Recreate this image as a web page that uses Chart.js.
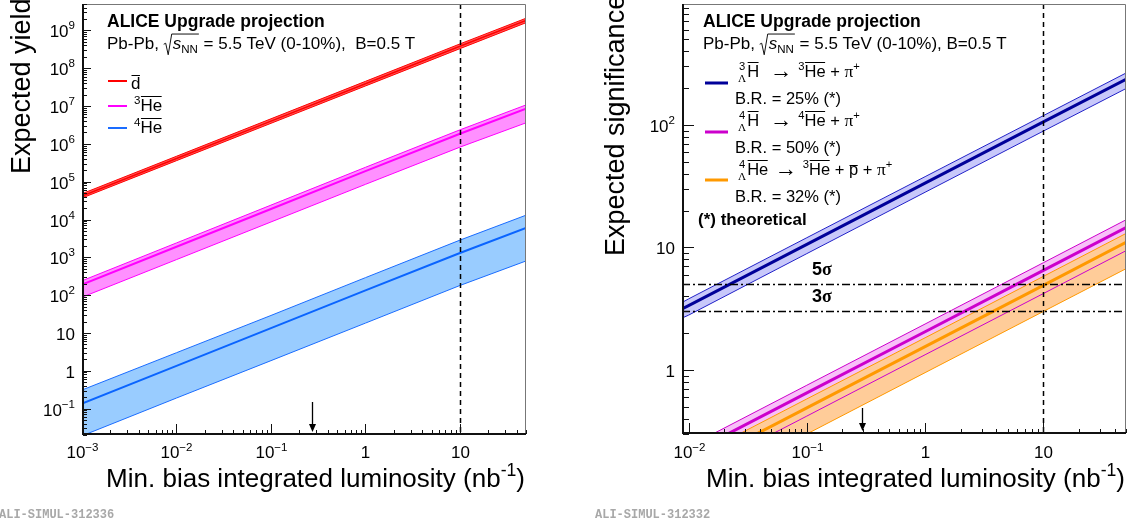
<!DOCTYPE html>
<html>
<head>
<meta charset="utf-8">
<script src="https://cdn.jsdelivr.net/npm/chart.js@4.4.1/dist/chart.umd.min.js"></script>
<style>
html, body { margin: 0; padding: 0; background: #fff; }
#wrap { position: relative; width: 1137px; height: 524px; overflow: hidden; }
canvas { position: absolute; top: 0; }
#left { left: 0; }
#right { left: 568px; }
</style>
</head>
<body>
<div id="wrap">
  <canvas id="left" width="568" height="524"></canvas>
  <canvas id="right" width="569" height="524"></canvas>
</div>
<script>
// ── left panel: expected yields vs. luminosity ─────────────────
const lumiL   = [0.001, 0.01, 0.1, 1, 10, 50];
const dbarHi  = [4.8e4, 4.7e5, 4.6e6, 4.5e7, 4.4e8, 2.1e9];
const dbarMid = [4.2e4, 4.1e5, 4.0e6, 3.9e7, 3.8e8, 1.85e9];
const dbarLo  = [3.7e4, 3.6e5, 3.5e6, 3.4e7, 3.3e8, 1.6e9];
const he3Hi   = [240, 2.4e3, 2.4e4, 2.4e5, 2.35e6, 1.07e7];
const he3Mid  = [190, 1.9e3, 1.9e4, 1.9e5, 1.85e6, 8.5e6];
const he3Lo   = [88, 870, 8.6e3, 8.5e4, 8.2e5, 3.6e6];
const he4Hi   = [0.31, 3.0, 29, 290, 2850, 1.3e4];
const he4Mid  = [0.135, 1.35, 13.4, 133, 1300, 6000];
const he4Lo   = [0.019, 0.19, 1.85, 18.2, 180, 800];

// ── right panel: expected significance vs. luminosity ──────────
const lumiR   = [0.0088, 0.01, 0.1, 1, 10, 50];
const h3Hi    = [3.55, 3.8, 12.0, 37.8, 119, 265];
const h3Mid   = [3.15, 3.35, 10.6, 33.5, 106, 235];
const h3Lo    = [2.65, 2.8, 8.9, 28.2, 89, 198];
const h4Hi    = [0.22, 0.237, 0.75, 2.37, 7.5, 16.8];
const h4Mid   = [0.19, 0.205, 0.65, 2.05, 6.5, 14.5];
const h4Lo    = [0.125, 0.133, 0.42, 1.33, 4.2, 9.4];
const he4LHi  = [0.172, 0.183, 0.58, 1.83, 5.8, 13.0];
const he4LMid = [0.145, 0.155, 0.49, 1.55, 4.9, 11.0];
const he4LLo  = [0.089, 0.095, 0.30, 0.95, 3.0, 6.7];

const sigmaLevels = [5, 3];
const sigmaLabels = ['5', '3'];
const targetLumi = 10;
const arrowLumiL = 0.27;
const arrowLumiR = 0.29;

const SANS  = '"Liberation Sans", Arial, Helvetica, sans-serif';
const SERIF = '"Liberation Serif", "Times New Roman", serif';
const MONO  = '"Liberation Mono", "Courier New", monospace';

function setFont(ctx, size, o) {
  ctx.font = (o.i ? 'italic ' : '') + (o.b ? 'bold ' : '') + size + 'px ' + (o.serif ? SERIF : SANS);
}

// tiny rich-text: sup / sub / overline / stacked prescripts / radical
function rich(ctx, x, y, parts, size, draw = true) {
  let cx = x;
  for (const p of parts) {
    if (p.rad) {
      const w = rich(ctx, 0, 0, p.rad, size, false);
      if (draw) {
        ctx.lineWidth = 1;
        ctx.beginPath();
        ctx.moveTo(cx, y - 0.28 * size);
        ctx.lineTo(cx + 2, y - 0.34 * size);
        ctx.lineTo(cx + 4.5, y + 0.34 * size);
        ctx.lineTo(cx + 8, y - 0.88 * size);
        ctx.lineTo(cx + 10 + w, y - 0.88 * size);
        ctx.stroke();
        rich(ctx, cx + 9, y, p.rad, size, true);
      }
      cx += 10 + w;
      continue;
    }
    if (p.stk) {
      const s = size * 0.68;
      setFont(ctx, s, {});
      const w1 = ctx.measureText(p.stk[0]).width;
      setFont(ctx, s, { serif: true });
      const w2 = ctx.measureText(p.stk[1]).width;
      const w = Math.max(w1, w2);
      if (draw) {
        setFont(ctx, s, {});
        ctx.fillText(p.stk[0], cx + (w - w1) / 2, y - 0.45 * size);
        setFont(ctx, s, { serif: true });
        ctx.fillText(p.stk[1], cx + (w - w2) / 2, y + 0.32 * size);
      }
      cx += w + 1;
      continue;
    }
    let s = size * (p.k || 1), dy = 0;
    if (p.sup !== undefined) { s = size * 0.68; dy = -0.42 * size; }
    if (p.sub !== undefined) { s = size * 0.68; dy = 0.26 * size; }
    const txt = p.t ?? p.sup ?? p.sub ?? p.ob;
    setFont(ctx, s, p);
    const w = ctx.measureText(txt).width;
    if (draw) {
      ctx.fillText(txt, cx, y + dy + (p.dy || 0));
      if (p.ob !== undefined) ctx.fillRect(cx + 0.5, Math.round(y + dy - (p.obh || 0.88) * s), w - 1, 1);
    }
    cx += w;
  }
  return cx - x;
}

function powParts(e) {
  if (e === 0) return [{ t: '1' }];
  if (e === 1) return [{ t: '10' }];
  return [{ t: '10' }, { sup: e < 0 ? '\u2212' + (-e) : '' + e }];
}

function eachLogTick(min, max, cb) {
  const e0 = Math.floor(Math.log10(min)), e1 = Math.ceil(Math.log10(max));
  for (let e = e0; e <= e1; e++) {
    for (let k = 1; k <= 9; k++) {
      const v = k * Math.pow(10, e);
      if (v < min * 0.999 || v > max * 1.001) continue;
      cb(v, k === 1, e);
    }
  }
}

function arrowDown(ctx, x, y0, y1) {
  ctx.setLineDash([]);
  ctx.lineWidth = 1.3;
  ctx.beginPath(); ctx.moveTo(x, y0); ctx.lineTo(x, y1 - 6); ctx.stroke();
  ctx.beginPath(); ctx.moveTo(x - 3.5, y1 - 8); ctx.lineTo(x + 3.5, y1 - 8); ctx.lineTo(x, y1); ctx.closePath(); ctx.fill();
}

function pts(xs, ys) { return xs.map((x, i) => ({ x, y: ys[i] })); }

function band(xs, lo, mid, hi, c) {
  return [
    { data: pts(xs, hi), borderColor: c.edge, borderWidth: c.ew, backgroundColor: c.fill, fill: '+1' },
    { data: pts(xs, lo), borderColor: c.edge, borderWidth: c.ew, fill: false },
    { data: pts(xs, mid), borderColor: c.line, borderWidth: c.lw, fill: false },
  ];
}

// draws frame, ticks, labels, titles, legend and markers
function decor(P) {
  return {
    id: 'decor',
    afterDraw(chart) {
      const ctx = chart.ctx, a = chart.chartArea;
      const xs = chart.scales.x, ys = chart.scales.y;
      ctx.save();
      ctx.fillStyle = '#000'; ctx.strokeStyle = '#000';
      ctx.textBaseline = 'alphabetic'; ctx.textAlign = 'left';

      // vertical dashed line at target luminosity
      const xt = Math.round(xs.getPixelForValue(targetLumi)) + 0.5;
      ctx.lineWidth = 1.5; ctx.setLineDash([5, 4]);
      ctx.beginPath(); ctx.moveTo(xt, a.top); ctx.lineTo(xt, a.bottom); ctx.stroke();

      // significance thresholds
      if (P.sigma) {
        ctx.setLineDash([8, 3, 2, 3]); ctx.lineWidth = 1.3;
        sigmaLevels.forEach((lv, i) => {
          const y = Math.round(ys.getPixelForValue(lv)) + 0.5;
          ctx.beginPath(); ctx.moveTo(a.left, y); ctx.lineTo(a.right, y); ctx.stroke();
          rich(ctx, 244, y - 10, [{ t: sigmaLabels[i], b: true }, { t: '\u03c3', serif: true, b: true }], 18);
        });
      }
      ctx.setLineDash([]);

      // arrow
      arrowDown(ctx, Math.round(xs.getPixelForValue(P.arrow)) + 0.5, P.arrowY0, a.bottom - 3);

      // frame
      ctx.strokeStyle = '#777'; ctx.lineWidth = 1;
      ctx.beginPath(); ctx.moveTo(a.left, a.top + 0.5); ctx.lineTo(a.right - 0.5, a.top + 0.5); ctx.lineTo(a.right - 0.5, a.bottom); ctx.stroke();
      ctx.strokeStyle = '#111'; ctx.lineWidth = 2;
      ctx.beginPath(); ctx.moveTo(a.left + 1, a.top); ctx.lineTo(a.left + 1, a.bottom - 1); ctx.lineTo(a.right, a.bottom - 1); ctx.stroke();

      // x ticks and labels
      ctx.lineWidth = 1;
      eachLogTick(P.xmin, P.xmax, (v, major, e) => {
        const px = Math.round(xs.getPixelForValue(v)) + 0.5;
        ctx.beginPath(); ctx.moveTo(px, a.bottom - 1); ctx.lineTo(px, a.bottom - (major ? P.xMaj : P.xMin)); ctx.stroke();
        if (major) {
          const parts = powParts(e);
          const w = rich(ctx, 0, 0, parts, 17, false);
          rich(ctx, px - w / 2, 458, parts, 17);
        }
      });
      // y ticks and labels
      eachLogTick(P.ymin, P.ymax, (v, major, e) => {
        const py = Math.round(ys.getPixelForValue(v)) + 0.5;
        ctx.beginPath(); ctx.moveTo(a.left + 1, py); ctx.lineTo(a.left + (major ? P.yMaj : P.yMin), py); ctx.stroke();
        if (major) {
          const parts = powParts(e);
          const w = rich(ctx, 0, 0, parts, 17, false);
          rich(ctx, a.left - 7 - w, py + 6, parts, 17);
        }
      });

      // axis titles
      const xt2 = [{ t: 'Min. bias integrated luminosity (nb' }, { sup: '-1' }, { t: ')' }];
      const wx = rich(ctx, 0, 0, xt2, 26, false);
      rich(ctx, a.right - 1 - wx, 487, xt2, 26);
      ctx.save();
      ctx.translate(P.yTitleX, P.yTitleY);
      ctx.rotate(-Math.PI / 2);
      setFont(ctx, 27, {});
      ctx.fillText(P.yTitle, 0, 0);
      ctx.restore();

      // header
      const lx = P.legX;
      setFont(ctx, 17.5, { b: true });
      ctx.fillText('ALICE Upgrade projection', lx, 27);
      rich(ctx, lx, 49, [{ t: 'Pb-Pb, ' }, { rad: [{ t: 's', i: true }, { sub: 'NN' }] }, { t: P.energyTail }], 17);

      // legend entries
      P.entries.forEach(en => {
        ctx.fillStyle = en.color;
        ctx.fillRect(en.x0, en.ly - en.lw / 2, en.x1 - en.x0, en.lw);
        ctx.fillStyle = '#000';
        rich(ctx, en.tx, en.ty, en.parts, en.size);
        if (en.br) {
          setFont(ctx, 16.5, {});
          ctx.fillText(en.br, en.tx - 3, en.ty + 27);
        }
      });
      if (P.footnote) {
        setFont(ctx, 17, { b: true });
        ctx.fillText(P.footnote, lx - 5, 225);
      }

      // watermark
      ctx.fillStyle = '#a8a8a8';
      ctx.font = 'bold 12px ' + MONO;
      ctx.fillText(P.mark, P.markX, 518);
      ctx.restore();
    }
  };
}

function makeChart(id, P, datasets) {
  return new Chart(document.getElementById(id), {
    type: 'line',
    data: { datasets },
    options: {
      responsive: false, animation: false, devicePixelRatio: 1, events: [],
      layout: { padding: { left: 0, right: P.padR, top: 4, bottom: 0 } },
      elements: { point: { radius: 0 }, line: { tension: 0 } },
      plugins: { legend: { display: false }, tooltip: { enabled: false }, filler: { drawTime: 'beforeDatasetsDraw' } },
      scales: {
        x: { type: 'logarithmic', min: P.xmin, max: P.xmax, ticks: { display: false }, grid: { display: false },
             border: { display: false }, afterFit: s => { s.height = P.xh; } },
        y: { type: 'logarithmic', min: P.ymin, max: P.ymax, ticks: { display: false }, grid: { display: false },
             border: { display: false }, afterFit: s => { s.width = P.yw; } },
      },
    },
    plugins: [decor(P)],
  });
}

const arrow = { t: ' \u2192 ', k: 1.35, dy: 1 };
const piPlus = [{ t: ' + ' }, { t: '\u03c0', serif: true, k: 1.05 }, { sup: '+' }];

makeChart('left', {
  xmin: 0.001, xmax: 50, ymin: 0.02, ymax: 5e9, xh: 89, yw: 82, padR: 42,
  xMaj: 11, xMin: 5, yMaj: 9, yMin: 5,
  arrow: arrowLumiL, arrowY0: 402,
  yTitle: 'Expected yield', yTitleX: 30, yTitleY: 174,
  legX: 107, energyTail: ' = 5.5 TeV (0-10%),  B=0.5 T',
  entries: [
    { color: '#ff0000', lw: 2, x0: 108, x1: 127, ly: 81, tx: 131, ty: 89, size: 17, parts: [{ ob: 'd', obh: 0.84 }] },
    { color: '#ff00ff', lw: 2, x0: 108, x1: 127, ly: 106, tx: 134, ty: 111, size: 17, parts: [{ sup: '3' }, { ob: 'He' }] },
    { color: '#1a6cff', lw: 2, x0: 108, x1: 127, ly: 128, tx: 134, ty: 133, size: 17, parts: [{ sup: '4' }, { ob: 'He' }] },
  ],
  mark: 'ALI-SIMUL-312336', markX: -1,
}, [
  ...band(lumiL, dbarLo, dbarMid, dbarHi, { edge: '#ff0000', ew: 1, fill: '#ff5a5a', line: '#ff0000', lw: 1.5 }),
  ...band(lumiL, he3Lo, he3Mid, he3Hi, { edge: '#ff00ff', ew: 1, fill: '#ff90ff', line: '#ff00ff', lw: 2 }),
  ...band(lumiL, he4Lo, he4Mid, he4Hi, { edge: '#1a6cff', ew: 1, fill: '#99ccff', line: '#0a64ff', lw: 2 }),
]);

makeChart('right', {
  xmin: 0.0088, xmax: 50, ymin: 0.3, ymax: 970, xh: 90, yw: 114, padR: 11,
  xMaj: 11, xMin: 5, yMaj: 12, yMin: 7, sigma: true,
  arrow: arrowLumiR, arrowY0: 408,
  yTitle: 'Expected significance', yTitleX: 56, yTitleY: 256,
  legX: 135, energyTail: ' = 5.5 TeV (0-10%), B=0.5 T',
  entries: [
    { color: '#000099', lw: 3, x0: 137, x1: 160, ly: 83, tx: 170, ty: 77, size: 16.5, br: 'B.R. = 25% (*)',
      parts: [{ stk: ['3', '\u039b'] }, { ob: 'H' }, { t: ' ' }, arrow, { sup: '3' }, { ob: 'He' }, ...piPlus] },
    { color: '#cc00cc', lw: 3, x0: 137, x1: 160, ly: 132, tx: 170, ty: 126, size: 16.5, br: 'B.R. = 50% (*)',
      parts: [{ stk: ['4', '\u039b'] }, { ob: 'H' }, { t: ' ' }, arrow, { sup: '4' }, { ob: 'He' }, ...piPlus] },
    { color: '#ff9900', lw: 3, x0: 137, x1: 160, ly: 180, tx: 170, ty: 175, size: 16.5, br: 'B.R. = 32% (*)',
      parts: [{ stk: ['4', '\u039b'] }, { ob: 'He' }, arrow, { sup: '3' }, { ob: 'He' }, { t: ' + ' }, { ob: 'p', obh: 0.62 }, ...piPlus] },
  ],
  footnote: '(*) theoretical',
  mark: 'ALI-SIMUL-312332', markX: 27,
}, [
  ...band(lumiR, he4LLo, he4LMid, he4LHi, { edge: '#ff9900', ew: 1, fill: '#ffcc99', line: '#ff9900', lw: 3 }),
  ...band(lumiR, h4Lo, h4Mid, h4Hi, { edge: '#cc00cc', ew: 1, fill: '#f8c0f8', line: '#cc00cc', lw: 3 }),
  ...band(lumiR, h3Lo, h3Mid, h3Hi, { edge: '#2020c8', ew: 1, fill: '#c8c8fa', line: '#000099', lw: 3 }),
]);
</script>
</body>
</html>
